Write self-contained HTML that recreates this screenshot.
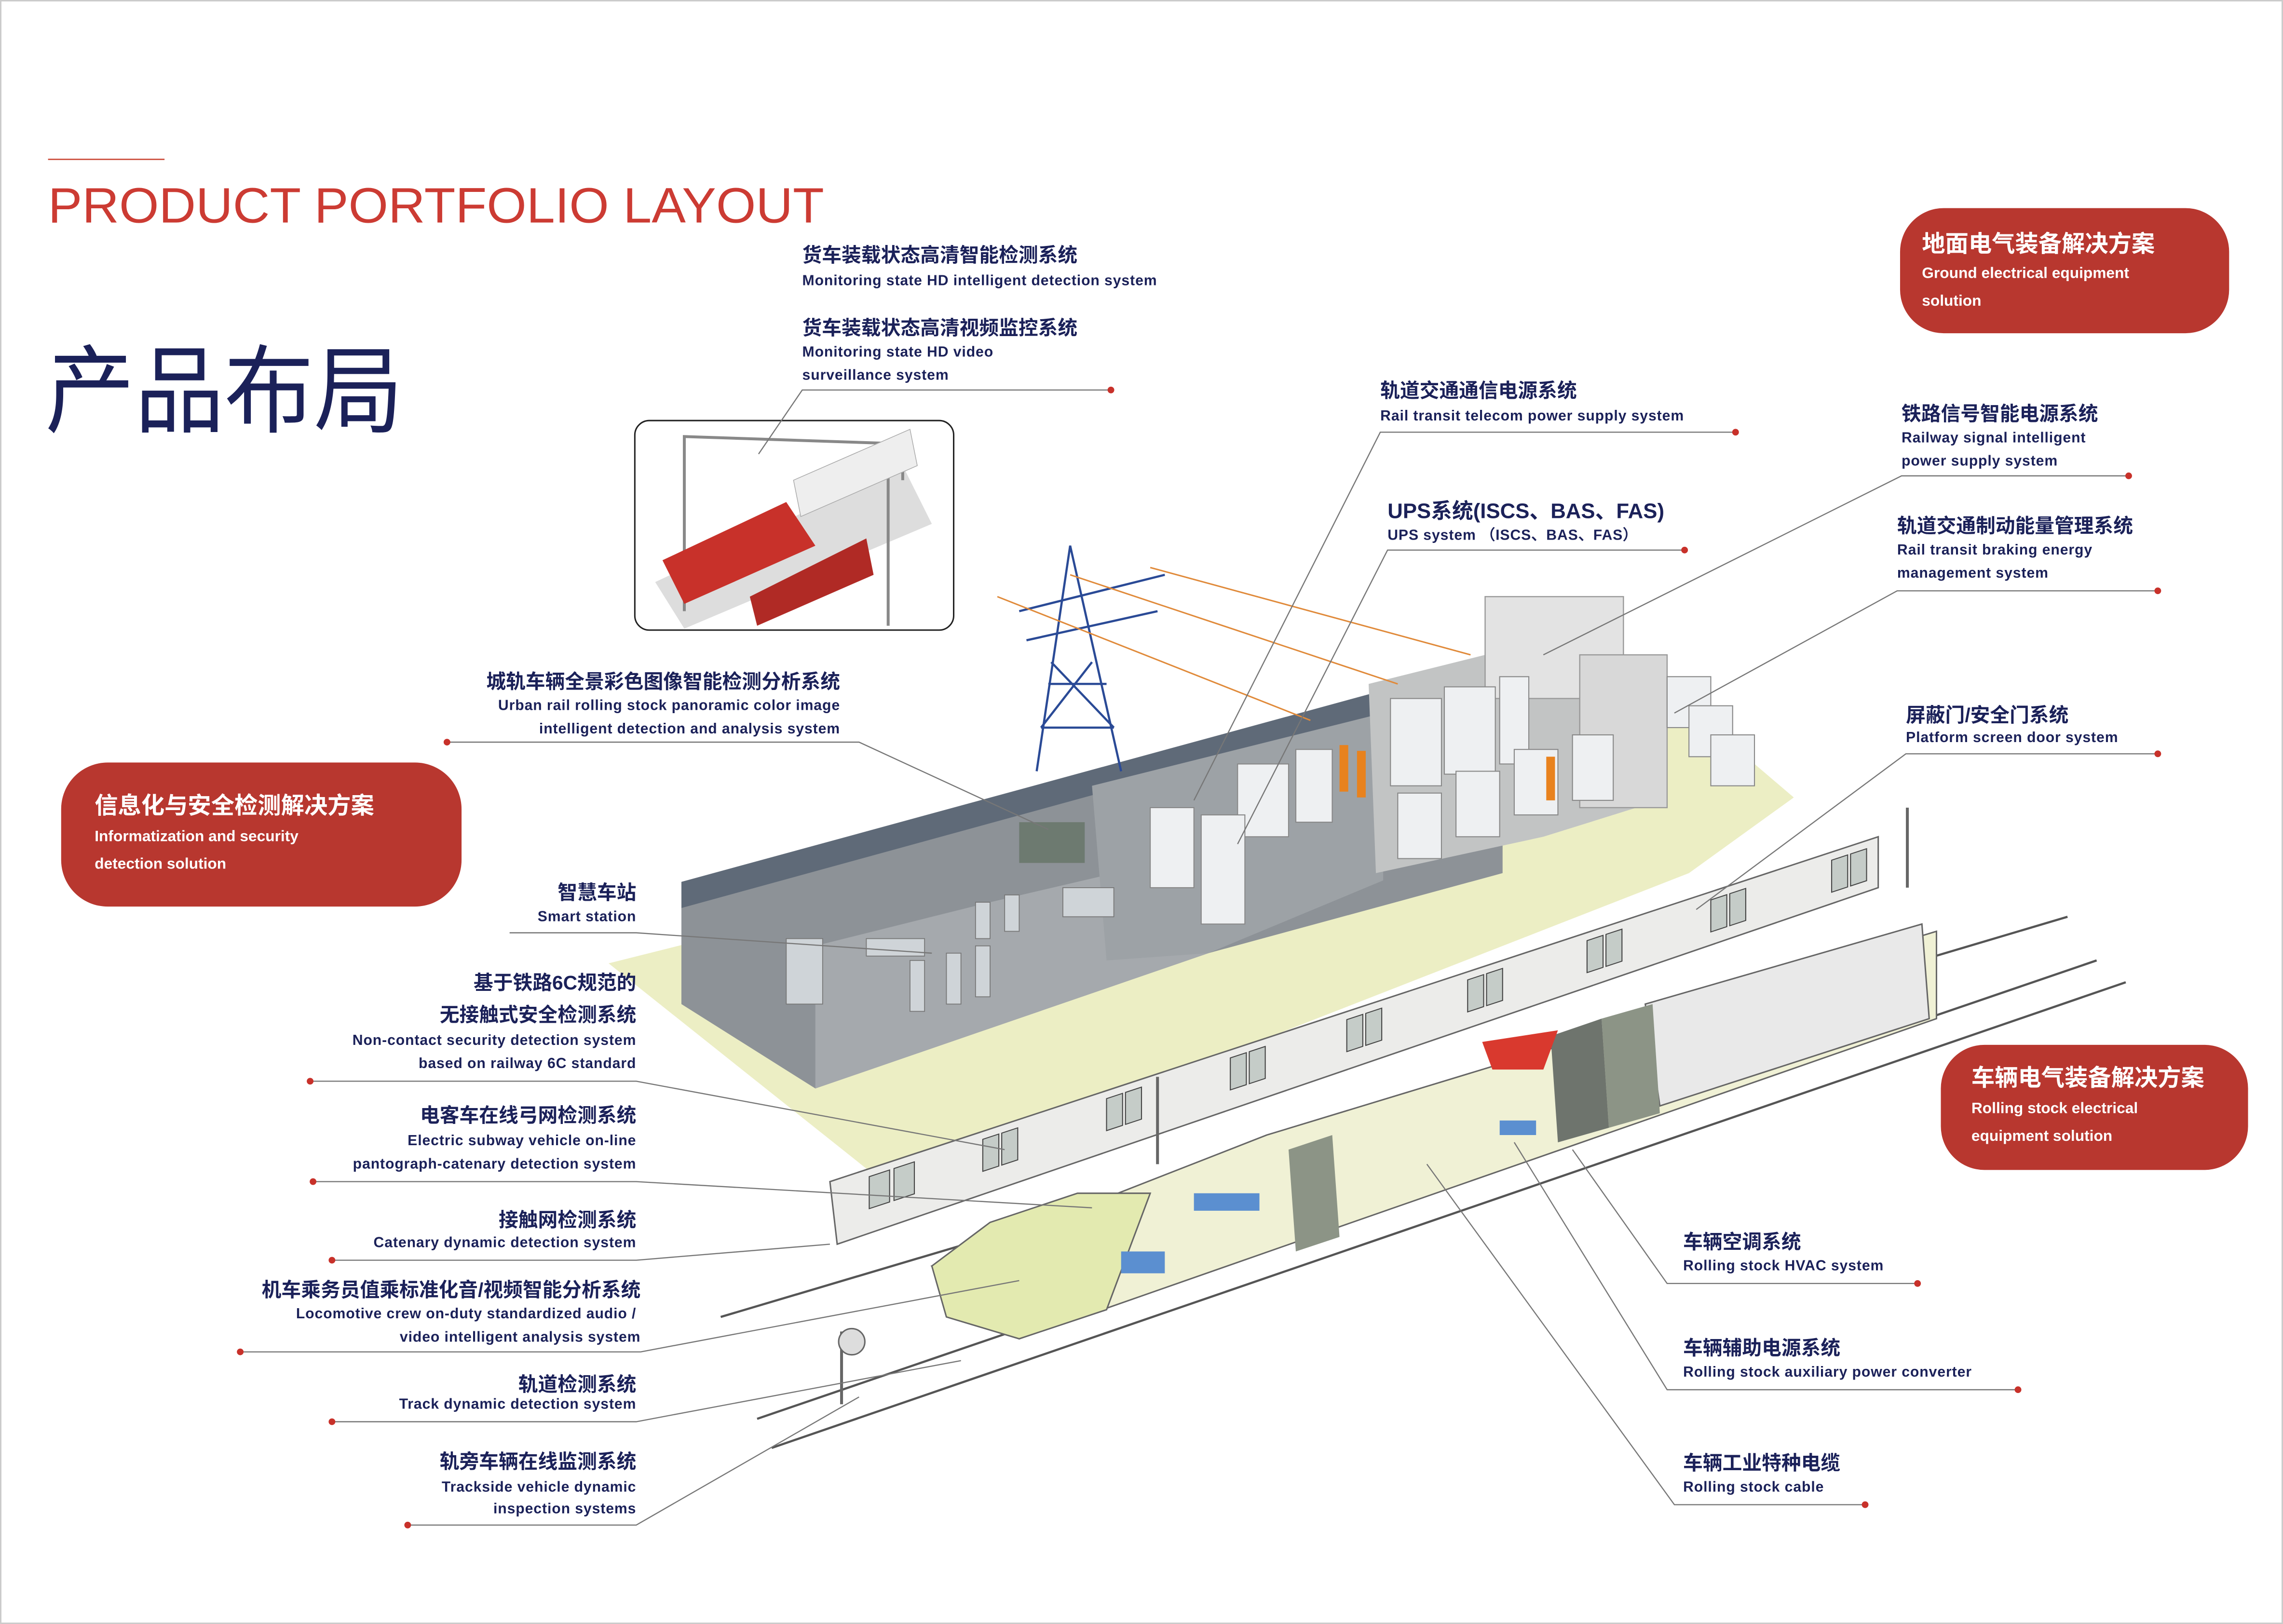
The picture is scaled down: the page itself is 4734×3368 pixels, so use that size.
<!DOCTYPE html>
<html><head><meta charset="utf-8"><style>
html,body{margin:0;padding:0;background:#fff;}
svg{display:block;}
.cn{font-family:"Liberation Sans","Noto Sans CJK SC",sans-serif;font-weight:700;fill:#1b2159;font-size:13.5px;}
.en{font-family:"Liberation Sans",sans-serif;font-weight:700;fill:#1b2159;font-size:10px;letter-spacing:0.3px;}
.bw{font-family:"Liberation Sans","Noto Sans CJK SC",sans-serif;font-weight:700;fill:#fff;}
.ln{stroke:#777;stroke-width:0.8;fill:none;}
.dot{fill:#c8312a;}
</style></head><body>
<svg width="4734" height="3368" viewBox="0 0 1568 1116" preserveAspectRatio="none" xmlns="http://www.w3.org/2000/svg">
<rect x="0" y="0" width="1568" height="1116" fill="#fff"/>
<rect x="0.5" y="0.5" width="1567" height="1115" fill="none" stroke="#ccc" stroke-width="1"/>
<!-- title -->
<line x1="33" y1="109.5" x2="113" y2="109.5" stroke="#d05a4a" stroke-width="1"/>
<text x="33" y="153" font-family="Liberation Sans,sans-serif" font-size="34" fill="#cc3b33" textLength="533" lengthAdjust="spacingAndGlyphs">PRODUCT  PORTFOLIO LAYOUT</text>
<text x="31" y="292" font-family="Liberation Sans,Noto Sans CJK SC,sans-serif" font-size="66" fill="#1b2159" textLength="246" lengthAdjust="spacingAndGlyphs">产品布局</text>

<!-- red boxes -->
<rect x="1305" y="143" width="226" height="86" rx="30" fill="#b8372f"/>
<text class="bw" x="1320" y="173" font-size="16">地面电气装备解决方案</text>
<text class="bw" x="1320" y="191" font-size="10.5" style="font-family:Liberation Sans,sans-serif">Ground electrical equipment</text>
<text class="bw" x="1320" y="210" font-size="10.5" style="font-family:Liberation Sans,sans-serif">solution</text>
<rect x="42" y="524" width="275" height="99" rx="32" fill="#b8372f"/>
<text class="bw" x="65" y="559" font-size="16">信息化与安全检测解决方案</text>
<text class="bw" x="65" y="578" font-size="10.5" style="font-family:Liberation Sans,sans-serif">Informatization and security</text>
<text class="bw" x="65" y="597" font-size="10.5" style="font-family:Liberation Sans,sans-serif">detection solution</text>
<rect x="1333" y="718" width="211" height="86" rx="30" fill="#b8372f"/>
<text class="bw" x="1354" y="746" font-size="16">车辆电气装备解决方案</text>
<text class="bw" x="1354" y="765" font-size="10.5" style="font-family:Liberation Sans,sans-serif">Rolling stock electrical</text>
<text class="bw" x="1354" y="784" font-size="10.5" style="font-family:Liberation Sans,sans-serif">equipment solution</text>

<!-- ILLUSTRATION -->
<g stroke="#555" stroke-width="1.5">
<line x1="495" y1="905" x2="1420" y2="630"/>
<line x1="520" y1="975" x2="1440" y2="660"/>
<line x1="530" y1="995" x2="1460" y2="675"/>
</g>
<polygon points="418,662 1150,478 1232,548 1160,600 610,815" fill="#eceec4"/>
<polygon points="468,606 1032,452 1032,470 468,625" fill="#5f6a78"/>
<polygon points="468,624 1032,469 1032,600 830,655 560,748 468,690" fill="#8d9297"/>
<polygon points="560,748 830,655 830,585 680,620 560,650" fill="#a5a9ad"/>
<polygon points="750,540 950,490 950,605 830,655 760,660" fill="#9da2a6"/>
<polygon points="940,470 1040,445 1140,470 1140,550 1060,575 945,600" fill="#c2c4c4"/>
<rect x="1020" y="410" width="95" height="70" fill="#e3e3e3" stroke="#999" stroke-width="0.8"/>
<rect x="1085" y="450" width="60" height="105" fill="#d8d8d8" stroke="#999" stroke-width="0.8"/>
<g fill="#eef0f2" stroke="#888" stroke-width="0.7">
<rect x="955" y="480" width="35" height="60"/><rect x="992" y="472" width="35" height="60"/><rect x="1030" y="465" width="20" height="60"/>
<rect x="960" y="545" width="30" height="45"/><rect x="1000" y="530" width="30" height="45"/><rect x="1040" y="515" width="30" height="45"/><rect x="1080" y="505" width="28" height="45"/>
<rect x="850" y="525" width="35" height="50"/><rect x="890" y="515" width="25" height="50"/>
<rect x="790" y="555" width="30" height="55"/><rect x="825" y="560" width="30" height="75"/>
<rect x="1145" y="465" width="30" height="35"/><rect x="1160" y="485" width="30" height="35"/><rect x="1175" y="505" width="30" height="35"/>
</g>
<g fill="#e8821e"><rect x="920" y="512" width="6" height="32"/><rect x="932" y="516" width="6" height="32"/><rect x="1062" y="520" width="6" height="30"/></g>
<g stroke="#2a4a96" stroke-width="1.5" fill="none">
<polyline points="712,530 735,375 770,530"/>
<line x1="700" y1="420" x2="800" y2="395"/><line x1="705" y1="440" x2="795" y2="420"/>
<line x1="720" y1="470" x2="760" y2="470"/><line x1="715" y1="500" x2="765" y2="500"/>
<line x1="722" y1="455" x2="765" y2="500"/><line x1="750" y1="455" x2="715" y2="500"/>
</g>
<g stroke="#e08a3a" stroke-width="1"><line x1="685" y1="410" x2="900" y2="495"/><line x1="735" y1="395" x2="960" y2="470"/><line x1="790" y1="390" x2="1010" y2="450"/></g>
<rect x="700" y="565" width="45" height="28" fill="#6d7a70"/>
<g fill="#cfd4d8" stroke="#777" stroke-width="0.6">
<rect x="540" y="645" width="25" height="45"/><rect x="595" y="645" width="40" height="12"/>
<rect x="625" y="660" width="10" height="35"/><rect x="650" y="655" width="10" height="35"/><rect x="670" y="650" width="10" height="35"/>
<rect x="670" y="620" width="10" height="25"/><rect x="690" y="615" width="10" height="25"/><rect x="730" y="610" width="35" height="20"/>
</g>
<!-- lower train cutaway -->
<polygon points="640,870 870,780 1330,640 1330,700 900,850 700,920" fill="#f0f1d5" stroke="#666" stroke-width="1"/>
<polygon points="640,870 680,840 740,820 790,820 760,900 700,920 650,905" fill="#e3eab0" stroke="#666" stroke-width="1"/>
<polygon points="1130,690 1320,635 1325,700 1140,760" fill="#e9e9e9" stroke="#666" stroke-width="1"/>
<polygon points="1100,700 1135,690 1140,765 1105,775" fill="#8c9486"/>
<polygon points="1065,712 1100,700 1105,775 1070,785" fill="#6e746d"/>
<polygon points="885,790 915,780 920,850 890,860" fill="#8c9486"/>
<polygon points="1018,716 1070,708 1060,735 1025,735" fill="#d9392e"/>
<g fill="#5b8fd0"><rect x="770" y="860" width="30" height="15"/><rect x="820" y="820" width="45" height="12"/><rect x="1030" y="770" width="25" height="10"/></g>
<!-- platform screen doors band -->
<polygon points="570,812 1290,575 1290,610 575,855" fill="#ececea" stroke="#666" stroke-width="1"/>
<g transform="matrix(1,-0.329,0,1,0,0)" fill="#c5ccc8" stroke="#444" stroke-width="0.7">
<rect x="597" y="1005" width="14" height="22"/><rect x="614" y="1005" width="14" height="22"/>
<rect x="675" y="1005" width="11" height="22"/><rect x="688" y="1005" width="11" height="22"/>
<rect x="760" y="1005" width="11" height="22"/><rect x="773" y="1005" width="11" height="22"/>
<rect x="845" y="1005" width="11" height="22"/><rect x="858" y="1005" width="11" height="22"/>
<rect x="925" y="1005" width="11" height="22"/><rect x="938" y="1005" width="11" height="22"/>
<rect x="1008" y="1005" width="11" height="22"/><rect x="1021" y="1005" width="11" height="22"/>
<rect x="1090" y="1005" width="11" height="22"/><rect x="1103" y="1005" width="11" height="22"/>
<rect x="1175" y="1005" width="11" height="22"/><rect x="1188" y="1005" width="11" height="22"/>
<rect x="1258" y="1005" width="11" height="22"/><rect x="1271" y="1005" width="11" height="22"/>
</g>
<!-- inset -->
<rect x="436" y="289" width="219" height="144" rx="10" fill="#fff" stroke="#222" stroke-width="1"/>
<polygon points="450,400 620,320 640,360 470,432" fill="#ddd"/>
<g stroke="#888" stroke-width="2" fill="none"><polyline points="470,420 470,300 620,305 620,330"/><line x1="610" y1="320" x2="610" y2="430"/></g>
<polygon points="455,385 540,345 560,375 470,415" fill="#c8312a"/>
<polygon points="515,410 595,370 600,395 520,430" fill="#b02a25"/>
<polygon points="545,330 625,295 630,320 550,355" fill="#eee" stroke="#aaa" stroke-width="0.5"/>
<g stroke="#666" stroke-width="2"><line x1="795" y1="740" x2="795" y2="800"/><line x1="1310" y1="555" x2="1310" y2="610"/><line x1="578" y1="915" x2="578" y2="965"/></g>
<circle cx="585" cy="922" r="9" fill="#ddd" stroke="#666"/>

<!-- LABELS -->
<text class="cn" x="551" y="180">货车装载状态高清智能检测系统</text>
<text class="en" x="551" y="196">Monitoring state HD  intelligent detection system</text>
<text class="cn" x="551" y="230">货车装载状态高清视频监控系统</text>
<text class="en" x="551" y="245">Monitoring state HD video</text>
<text class="en" x="551" y="261">surveillance system</text>
<polyline class="ln" points="763,268 551,268 521,312"/><circle class="dot" cx="763" cy="268" r="2.3"/>

<text class="cn" x="948" y="273">轨道交通通信电源系统</text>
<text class="en" x="948" y="289">Rail transit telecom power supply system</text>
<polyline class="ln" points="1192,297 948,297 820,550"/><circle class="dot" cx="1192" cy="297" r="2.3"/>

<text class="cn" x="953" y="356" style="font-size:14.5px">UPS系统(ISCS、BAS、FAS)</text>
<text class="en" x="953" y="371">UPS system （ISCS、BAS、FAS）</text>
<polyline class="ln" points="1157,378 953,378 850,580"/><circle class="dot" cx="1157" cy="378" r="2.3"/>

<text class="cn" x="1306" y="289">铁路信号智能电源系统</text>
<text class="en" x="1306" y="304">Railway signal intelligent</text>
<text class="en" x="1306" y="320">power supply system</text>
<polyline class="ln" points="1462,327 1306,327 1060,450"/><circle class="dot" cx="1462" cy="327" r="2.3"/>

<text class="cn" x="1303" y="366">轨道交通制动能量管理系统</text>
<text class="en" x="1303" y="381">Rail transit braking energy</text>
<text class="en" x="1303" y="397">management system</text>
<polyline class="ln" points="1482,406 1303,406 1150,490"/><circle class="dot" cx="1482" cy="406" r="2.3"/>

<text class="cn" x="1309" y="496">屏蔽门/安全门系统</text>
<text class="en" x="1309" y="510">Platform screen door system</text>
<polyline class="ln" points="1482,518 1309,518 1165,625"/><circle class="dot" cx="1482" cy="518" r="2.3"/>

<g text-anchor="end">
<text class="cn" x="577" y="473">城轨车辆全景彩色图像智能检测分析系统</text>
<text class="en" x="577" y="488">Urban rail rolling stock panoramic color image</text>
<text class="en" x="577" y="504">intelligent detection and analysis system</text>
<text class="cn" x="437" y="618">智慧车站</text>
<text class="en" x="437" y="633">Smart station</text>
<text class="cn" x="437" y="680">基于铁路6C规范的</text>
<text class="cn" x="437" y="702">无接触式安全检测系统</text>
<text class="en" x="437" y="718">Non-contact security detection system</text>
<text class="en" x="437" y="734">based on railway 6C standard</text>
<text class="cn" x="437" y="771">电客车在线弓网检测系统</text>
<text class="en" x="437" y="787">Electric subway vehicle on-line</text>
<text class="en" x="437" y="803">pantograph-catenary detection system</text>
<text class="cn" x="437" y="843">接触网检测系统</text>
<text class="en" x="437" y="857">Catenary dynamic detection system</text>
<text class="cn" x="440" y="891">机车乘务员值乘标准化音/视频智能分析系统</text>
<text class="en" x="437" y="906">Locomotive crew on-duty standardized audio /</text>
<text class="en" x="440" y="922">video intelligent analysis system</text>
<text class="cn" x="437" y="956">轨道检测系统</text>
<text class="en" x="437" y="968">Track dynamic detection system</text>
<text class="cn" x="437" y="1009">轨旁车辆在线监测系统</text>
<text class="en" x="437" y="1025">Trackside vehicle dynamic</text>
<text class="en" x="437" y="1040">inspection systems</text>
</g>
<polyline class="ln" points="307,510 590,510 720,570"/><circle class="dot" cx="307" cy="510" r="2.3"/>
<polyline class="ln" points="350,641 437,641 640,655"/>
<polyline class="ln" points="213,743 437,743 690,790"/><circle class="dot" cx="213" cy="743" r="2.3"/>
<polyline class="ln" points="215,812 437,812 750,830"/><circle class="dot" cx="215" cy="812" r="2.3"/>
<polyline class="ln" points="228,866 437,866 570,855"/><circle class="dot" cx="228" cy="866" r="2.3"/>
<polyline class="ln" points="165,929 440,929 700,880"/><circle class="dot" cx="165" cy="929" r="2.3"/>
<polyline class="ln" points="228,977 437,977 660,935"/><circle class="dot" cx="228" cy="977" r="2.3"/>
<polyline class="ln" points="280,1048 437,1048 590,960"/><circle class="dot" cx="280" cy="1048" r="2.3"/>

<text class="cn" x="1156" y="858">车辆空调系统</text>
<text class="en" x="1156" y="873">Rolling stock HVAC system</text>
<polyline class="ln" points="1317,882 1145,882 1080,790"/><circle class="dot" cx="1317" cy="882" r="2.3"/>
<text class="cn" x="1156" y="931">车辆辅助电源系统</text>
<text class="en" x="1156" y="946">Rolling stock auxiliary power converter</text>
<polyline class="ln" points="1386,955 1145,955 1040,785"/><circle class="dot" cx="1386" cy="955" r="2.3"/>
<text class="cn" x="1156" y="1010">车辆工业特种电缆</text>
<text class="en" x="1156" y="1025">Rolling stock cable</text>
<polyline class="ln" points="1281,1034 1150,1034 980,800"/><circle class="dot" cx="1281" cy="1034" r="2.3"/>
</svg>
</body></html>
